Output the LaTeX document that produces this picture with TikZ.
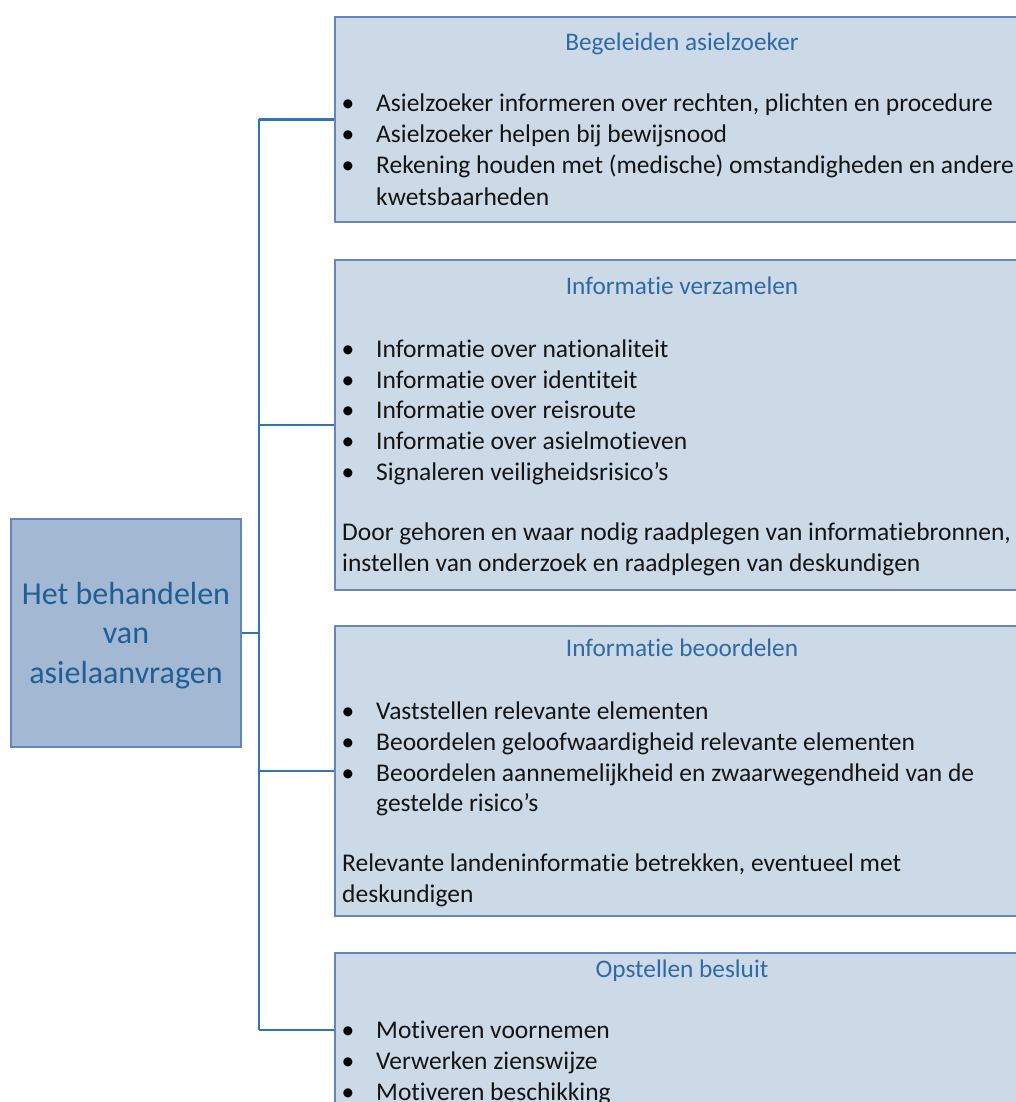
\documentclass[tikz,border=0pt]{standalone}
\usepackage{fontspec}
\setmainfont{Carlito}[Ligatures={NoCommon}]
\definecolor{boxfill}{HTML}{CCD9E7}
\definecolor{rootfill}{HTML}{A3B8D3}
\definecolor{boxline}{HTML}{6485BE}
\definecolor{conn}{HTML}{2E75B6}
\definecolor{titleblue}{HTML}{2F6AA6}
\definecolor{roottext}{HTML}{1F5E96}
\definecolor{bodytext}{HTML}{141414}
\tikzset{
  panel/.style={draw=boxline, line width=2.8pt, fill=boxfill, rectangle, inner sep=0pt},
  rootbox/.style={draw=boxline, line width=2.8pt, fill=rootfill, rectangle, inner sep=0pt},
  link/.style={draw=conn, line width=2.4pt},
  ttl/.style={anchor=base, text=titleblue, font=\fontsize{25.3}{30}\selectfont, inner sep=0pt},
  txt/.style={anchor=base west, text=bodytext, font=\fontsize{25.5}{30}\selectfont, inner sep=0pt},
  bul/.style={anchor=base, text=black, font=\fontsize{25.5}{30}\selectfont, inner sep=0pt},
  roottxt/.style={anchor=base, text=roottext, font=\fontsize{32}{38}\selectfont, inner sep=0pt}
}
\begin{document}
\begin{tikzpicture}[x=1pt,y=-1pt]
\useasboundingbox (0,0) rectangle (1016,1102);
\clip (0,0) rectangle (1016,1102);
% boxes
\node[rootbox, minimum width=230pt, minimum height=228pt] (root) at (126,633) {};
\node[panel, minimum width=695pt, minimum height=205pt] (b1) at (682.5,119.5) {};
\node[panel, minimum width=695pt, minimum height=330pt] (b2) at (682.5,425) {};
\node[panel, minimum width=695pt, minimum height=290pt] (b3) at (682.5,771) {};
\node[panel, minimum width=695pt, minimum height=154pt] (b4) at (682.5,1030) {};
% connectors
\coordinate (t) at (259,0);
\draw[link] (root.east) -- (root.east -| t);
\draw[link] (t |- b1.west) -- (t |- b4.west);
\draw[link] (t |- b1.west) -- (b1.west);
\draw[link] (t |- b2.west) -- (b2.west);
\draw[link] (t |- b3.west) -- (b3.west);
\draw[link] (t |- b4.west) -- (b4.west);
% root text
\node[roottxt] (r1) at (126,604) {Het behandelen};
\node[roottxt] (r2) at (126,643) {van};
\node[roottxt] (r3) at (126,683) {asielaanvragen};
% box 1
\node[ttl] (t1) at (682,51) {Begeleiden asielzoeker};
\node[bul] (b1a) at (348,112) {\textbullet};
\node[bul] (b1b) at (348,143) {\textbullet};
\node[bul] (b1c) at (348,174) {\textbullet};
\node[txt] (l1a) at (376,112) {Asielzoeker informeren over rechten, plichten en procedure};
\node[txt] (l1b) at (376,143) {Asielzoeker helpen bij bewijsnood};
\node[txt] (l1c) at (376,174) {Rekening houden met (medische) omstandigheden en andere};
\node[txt] (l1d) at (376,205) {kwetsbaarheden};
% box 2
\node[ttl] (t2) at (682,294) {Informatie verzamelen};
\node[bul] (b2a) at (348,357) {\textbullet};
\node[bul] (b2b) at (348,388) {\textbullet};
\node[bul] (b2c) at (348,418) {\textbullet};
\node[bul] (b2d) at (348,449) {\textbullet};
\node[bul] (b2e) at (348,480) {\textbullet};
\node[txt] (l2a) at (376,357) {Informatie over nationaliteit};
\node[txt] (l2b) at (376,388) {Informatie over identiteit};
\node[txt] (l2c) at (376,418) {Informatie over reisroute};
\node[txt] (l2d) at (376,449) {Informatie over asielmotieven};
\node[txt] (l2e) at (376,480) {Signaleren veiligheidsrisico’s};
\node[txt] (p2a) at (342,540) {Door gehoren en waar nodig raadplegen van informatiebronnen,};
\node[txt] (p2b) at (342,571) {instellen van onderzoek en raadplegen van deskundigen};
% box 3
\node[ttl] (t3) at (682,656) {Informatie beoordelen};
\node[bul] (b3a) at (348,719) {\textbullet};
\node[bul] (b3b) at (348,750) {\textbullet};
\node[bul] (b3c) at (348,781) {\textbullet};
\node[txt] (l3a) at (376,719) {Vaststellen relevante elementen};
\node[txt] (l3b) at (376,750) {Beoordelen geloofwaardigheid relevante elementen};
\node[txt] (l3c) at (376,781) {Beoordelen aannemelijkheid en zwaarwegendheid van de};
\node[txt] (l3d) at (376,811) {gestelde risico’s};
\node[txt] (p3a) at (342,871) {Relevante landeninformatie betrekken, eventueel met};
\node[txt] (p3b) at (342,902) {deskundigen};
% box 4
\node[ttl] (t4) at (682,977) {Opstellen besluit};
\node[bul] (b4a) at (348,1038) {\textbullet};
\node[bul] (b4b) at (348,1069) {\textbullet};
\node[bul] (b4c) at (348,1100) {\textbullet};
\node[txt] (l4a) at (376,1038) {Motiveren voornemen};
\node[txt] (l4b) at (376,1069) {Verwerken zienswijze};
\node[txt] (l4c) at (376,1100) {Motiveren beschikking};
\end{tikzpicture}
\end{document}
